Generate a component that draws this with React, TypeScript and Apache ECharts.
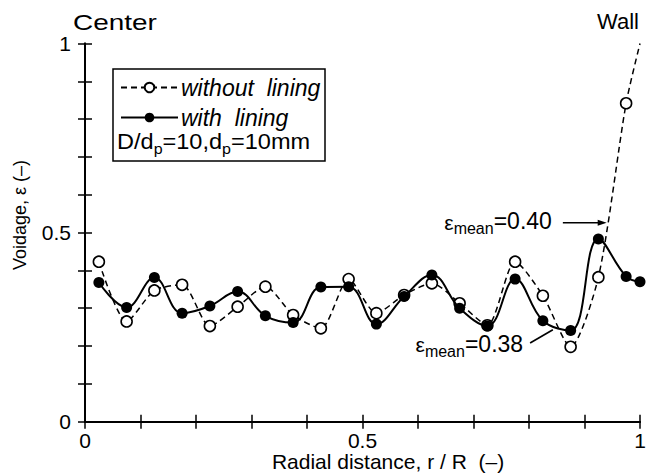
import React, { useEffect, useRef } from "react";
import * as echarts from "echarts";

// ---- data ----
const radialPositions = [
  0.025, 0.075, 0.125, 0.175, 0.225, 0.275, 0.325, 0.375, 0.425, 0.475,
  0.525, 0.575, 0.625, 0.675, 0.725, 0.775, 0.825, 0.875, 0.925, 0.975, 1.0,
];
const withoutLining = [
  0.423, 0.265, 0.347, 0.362, 0.253, 0.304, 0.357, 0.282, 0.247, 0.377,
  0.287, 0.335, 0.366, 0.313, 0.255, 0.423, 0.333, 0.198, 0.382, 0.842, 1.0,
];
const withLining = [
  0.368, 0.302, 0.381, 0.287, 0.306, 0.344, 0.28, 0.262, 0.356, 0.357,
  0.258, 0.331, 0.388, 0.3, 0.253, 0.377, 0.267, 0.241, 0.483, 0.384, 0.37,
];
const seriesNames = ["without  lining", "with  lining"];
const tickValues = [0, 0.5, 1];
const tickLabels = ["0", "0.5", "1"];
// mean voidage annotations
const meanLabels = ["0.40", "0.38"];
const meanArrowFrom = [
  [0.861, 0.526],
  [0.802, 0.208],
];
const meanArrowTo = [
  [0.94, 0.526],
  [0.843, 0.243],
];

const FONT = "'Liberation Sans', Arial, Helvetica, sans-serif";

function labelFor(v: number): string {
  for (let i = 0; i < tickValues.length; i++) {
    if (Math.abs(v - tickValues[i]) < 1e-6) return tickLabels[i];
  }
  return "";
}

function toItems(values: number[]) {
  return radialPositions.map((x, i) => {
    const v = values[i];
    // a point sitting exactly in the frame corner is hidden by the frame in the reference
    if (x >= 1 && v >= 1) return { value: [x, v], symbol: "none" };
    return { value: [x, v] };
  });
}

export default function App() {
  const ref = useRef<HTMLDivElement>(null);

  useEffect(() => {
    if (!ref.current) return;
    const chart = echarts.init(ref.current, undefined, { renderer: "svg" });

    const axisCommon = {
      type: "value" as const,
      min: 0,
      max: 1,
      interval: 0.1,
      splitLine: { show: false },
      axisLine: { show: true, lineStyle: { color: "#000", width: 2 } },
      axisTick: { show: true, inside: true, length: 7, lineStyle: { color: "#000", width: 1.5 } },
    };

    const option: any = {
      animation: false,
      backgroundColor: "#fff",
      grid: { left: 85, right: 13, top: 43.5, bottom: 54.3, containLabel: false },
      xAxis: [
        {
          ...axisCommon,
          position: "bottom",
          axisLabel: {
            show: true,
            color: "#000",
            fontFamily: FONT,
            fontSize: 21,
            margin: 8,
            formatter: (v: number) => labelFor(v),
          },
        },
        { ...axisCommon, position: "top", axisLabel: { show: false } },
      ],
      yAxis: [
        {
          ...axisCommon,
          position: "left",
          axisLabel: {
            show: true,
            color: "#000",
            fontFamily: FONT,
            fontSize: 21,
            margin: 14,
            formatter: (v: number) => labelFor(v),
          },
        },
        { ...axisCommon, position: "right", axisLabel: { show: false } },
      ],
      legend: {
        show: true,
        orient: "vertical",
        left: 120,
        top: 76,
        itemWidth: 57,
        itemHeight: 12,
        itemGap: 7,
        padding: 0,
        textStyle: {
          fontFamily: FONT,
          fontStyle: "italic",
          fontSize: 23,
          color: "#000",
          padding: [0, 0, 0, -2],
        },
        data: seriesNames,
      },
      series: [
        {
          name: seriesNames[0],
          type: "line",
          data: toItems(withoutLining),
          smooth: 0.25,
          symbol: "circle",
          symbolSize: 11,
          lineStyle: { color: "#000", width: 1.5, type: [6, 4] },
          itemStyle: { color: "#fff", borderColor: "#000", borderWidth: 1.6 },
          z: 3,
        },
        {
          name: seriesNames[1],
          type: "line",
          data: toItems(withLining),
          smooth: 0.4,
          symbol: "circle",
          symbolSize: 11,
          lineStyle: { color: "#000", width: 2 },
          itemStyle: { color: "#000", borderColor: "#000", borderWidth: 0 },
          z: 4,
        },
      ],
    };

    chart.setOption(option);

    const px = (p: number[]) => chart.convertToPixel({ xAxisIndex: 0, yAxisIndex: 0 }, p) as number[];

    const graphics: any[] = [];
    // titles above the plot
    graphics.push({
      type: "text",
      x: 73,
      y: 22,
      scaleX: 1.27,
      style: { text: "Center", font: `22px ${FONT}`, fill: "#000", align: "left", verticalAlign: "middle" },
    });
    graphics.push({
      type: "text",
      x: 639,
      y: 21,
      style: { text: "Wall", font: `22px ${FONT}`, fill: "#000", align: "right", verticalAlign: "middle" },
    });
    // axis names
    graphics.push({
      type: "text",
      x: 388,
      y: 461,
      style: {
        text: "Radial distance, r / R  (\u2013)",
        font: `21px ${FONT}`,
        fill: "#000",
        align: "center",
        verticalAlign: "middle",
      },
    });
    graphics.push({
      type: "text",
      x: 20,
      y: 215,
      rotation: Math.PI / 2,
      style: {
        text: "Voidage, \u03b5 (\u2013)",
        font: `18px ${FONT}`,
        fill: "#000",
        align: "center",
        verticalAlign: "middle",
      },
    });
    // legend frame and condition text
    graphics.push({
      type: "rect",
      shape: { x: 113, y: 69, width: 212, height: 92 },
      style: { fill: "none", stroke: "#000", lineWidth: 1.5 },
      z: 10,
    });
    graphics.push({
      type: "text",
      x: 117,
      y: 156,
      scaleX: 1.07,
      z: 10,
      style: {
        text: "{n|D/d}{s|p}{n|=10,d}{s|p}{n|=10mm}",
        fill: "#000",
        align: "left",
        verticalAlign: "bottom",
        rich: {
          n: { fontFamily: FONT, fontSize: 22, color: "#000", verticalAlign: "bottom", padding: [0, 0, 4, 0] },
          s: { fontFamily: FONT, fontSize: 15, color: "#000", verticalAlign: "bottom" },
        },
      },
    });

    // mean voidage annotations
    for (let i = 0; i < meanLabels.length; i++) {
      const a = px(meanArrowFrom[i]);
      const b = px(meanArrowTo[i]);
      const isArrow = i === 0;
      graphics.push({
        type: "line",
        shape: { x1: a[0], y1: a[1], x2: isArrow ? b[0] - 7 : b[0], y2: b[1] },
        style: { stroke: "#000", lineWidth: 1.6 },
        z: 10,
      });
      if (isArrow) {
        graphics.push({
          type: "polygon",
          shape: { points: [[b[0], b[1]], [b[0] - 9, b[1] - 3], [b[0] - 9, b[1] + 3]] },
          style: { fill: "#000" },
          z: 10,
        });
      }
      graphics.push({
        type: "text",
        x: a[0] - (isArrow ? 11 : 7),
        y: a[1] + (isArrow ? 14 : 16),
        z: 10,
        style: {
          text: `{e|\u03b5}{s|mean}{n|=${meanLabels[i]}}`,
          fill: "#000",
          align: "right",
          verticalAlign: "bottom",
          rich: {
            e: { fontFamily: FONT, fontSize: 21, color: "#000", verticalAlign: "bottom", padding: [0, 0, 4, 0] },
            s: { fontFamily: FONT, fontSize: 16, color: "#000", verticalAlign: "bottom" },
            n: { fontFamily: FONT, fontSize: 23, color: "#000", verticalAlign: "bottom", padding: [0, 0, 4, 0] },
          },
        },
      });
    }

    chart.setOption({ graphic: graphics });

    return () => chart.dispose();
  }, []);

  return (
    <div
      ref={ref}
      style={{ position: "absolute", left: 0, top: 0, width: 653, height: 476, background: "#fff" }}
    />
  );
}
